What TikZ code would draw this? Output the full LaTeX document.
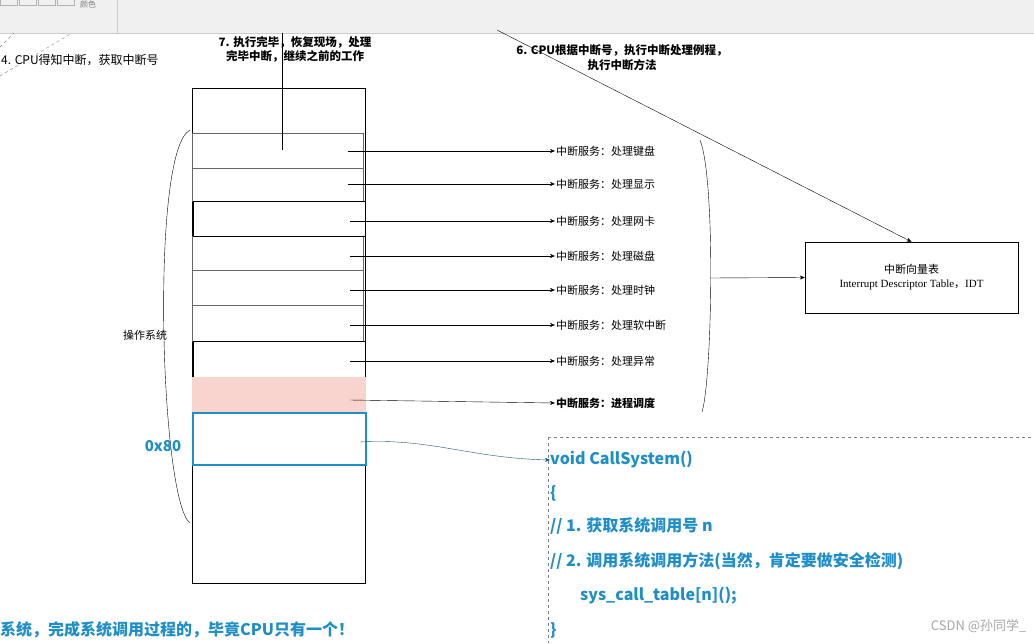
\documentclass[tikz,border=0pt]{standalone}
\usepackage{fontspec}
\setmainfont{Noto Sans CJK SC}
\usetikzlibrary{arrows.meta}
\definecolor{cblue}{HTML}{1E8EC7}
\definecolor{pinkf}{HTML}{F9D3CE}
\tikzset{x=1pt,y=-1pt,
 lab/.style={font=\fontsize{11}{13}\selectfont,inner sep=1pt},
 arr/.style={-{Stealth[length=5pt,width=4pt]},thin},
 code/.style={font=\fontsize{16}{18}\selectfont\bfseries,text=cblue,anchor=west,inner sep=0pt}}
\begin{document}
\begin{tikzpicture}
\useasboundingbox (0,0) rectangle (1034,643);
\fill[white] (0,0) rectangle (1034,643);
% toolbar
\fill[gray!12] (0,0) rectangle (1034,33);
\draw[gray!40] (0,33) -- (1034,33);
\draw[gray!40] (117,0) -- (117,33);
\foreach \i in {0,1,2,3}{\draw[gray!60] (\i*19,-2) rectangle (\i*19+17,5);}
\node[font=\fontsize{8}{9}\selectfont,text=gray,anchor=north west,inner sep=0pt] (tb) at (80,1) {颜色};
% dashed lines at top left
\draw[dashed,gray] (0,47) -- (14,33);
\draw[dashed,gray] (0,76) -- (72,33);
% column
\node[draw,minimum width=173pt,minimum height=495pt,inner sep=0pt,anchor=north west] (col) at (192,88) {};
\foreach \a/\b in {133/168,168/201,236/270,270/305,305/341}{\draw[gray!80!black,thin] (192,\a) rectangle (363,\b);}
\draw[thick] (193,201) rectangle (365,236);
\draw[thick] (193,341) rectangle (365,377);
\fill[pinkf] (192,377) rectangle (366,413);
\draw[cblue,line width=2.5pt] (193,413) rectangle (366,465);
% vertical line from 7
\coordinate (v1) at (282,33);
\coordinate (v2) at (282,150);
\draw (v1) -- (v2);
% services
\foreach \y/\t/\xs in {151/中断服务：处理键盘/348,184/中断服务：处理显示/348,221/中断服务：处理网卡/350,256/中断服务：处理磁盘/350,290/中断服务：处理时钟/350,325/中断服务：处理软中断/350,361/中断服务：处理异常/350}{
 \coordinate (s\y) at (\xs,\y);
 \node[lab,anchor=west] (t\y) at (555,\y) {\t};
 \draw[arr] (s\y) -- (t\y.west);
}
\coordinate (s400) at (350,400);
\node[lab,anchor=west,font=\fontsize{11}{13}\selectfont\bfseries] (t400) at (555,403) {中断服务：进程调度};
\draw[arr] (s400) -- (t400.west);
% right brace
\coordinate (rb) at (710,278);
\draw (700,140) .. controls (716,180) and (712,380) .. (702,412);
% left brace
\draw (190,130) .. controls (150,150) and (160,500) .. (190,523);
\node[lab] (os) at (145,335) {操作系统};
% IDT
\node[draw,minimum width=213pt,minimum height=71pt,align=center,font=\fontsize{11}{14}\selectfont] (idt) at (911.5,277.5) {中断向量表\\{\fontspec{Liberation Serif}Interrupt Descriptor Table}，{\fontspec{Liberation Serif}IDT}};
\draw[arr] (rb) -- (idt.west);
\coordinate (d1) at (497,30);
\draw[arr] (d1) -- (idt.north);
% top texts
\node[lab,align=center,font=\fontsize{11.5}{14}\selectfont\bfseries] (n7) at (295,49) {7. 执行完毕，恢复现场，处理\\完毕中断，继续之前的工作};
\node[lab,align=center,font=\fontsize{11.5}{15}\selectfont\bfseries] (n6) at (622,58) {6. CPU根据中断号，执行中断处理例程，\\执行中断方法};
\node[lab,anchor=west,font=\fontsize{12}{14}\selectfont] (n4) at (0,60) {4. CPU得知中断，获取中断号};
% 0x80
\node[font=\fontsize{15}{17}\selectfont\bfseries,text=cblue,inner sep=0pt] (hex) at (163,446) {0x80};
% dashed box
\draw[dashed,gray] (548,437) -- (1034,437);
\draw[dashed,gray] (548,437) -- (548,643);
\node[code] (c1) at (550,460) {void CallSystem()};
\node[code] (c2) at (550,493) {\{};
\node[code] (c3) at (550,526) {// 1. 获取系统调用号 n};
\node[code] (c4) at (550,561) {// 2. 调用系统调用方法(当然，肯定要做安全检测)};
\node[code] (c5) at (580,596) {sys\_call\_table[n]();};
\node[code] (c6) at (550,630) {\}};
\coordinate (cs) at (360,442);
\draw[arr,cblue!60!black] (cs) .. controls (430,438) and (470,458) .. (c1.west);
% bottom text
\node[code] (bt) at (0,630) {系统，完成系统调用过程的，毕竟CPU只有一个！};
\node[font=\fontsize{13}{15}\selectfont,text=gray!70,anchor=east] (wm) at (1030,626) {CSDN @孙同学\_};
\end{tikzpicture}
\end{document}
